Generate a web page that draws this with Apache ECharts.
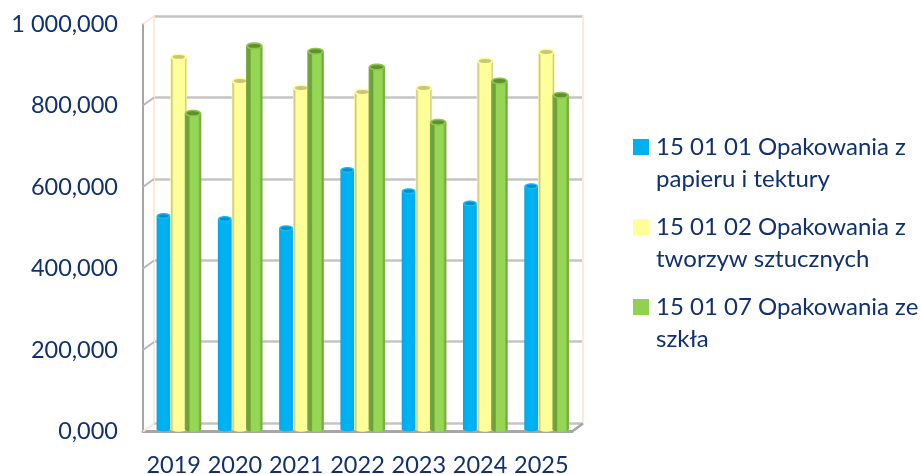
<!DOCTYPE html>
<html><head><meta charset="utf-8">
<style>html,body{margin:0;padding:0;background:#fff}#c{width:922px;height:474px}</style>
<script src="https://cdn.jsdelivr.net/npm/echarts@6/dist/echarts.min.js"></script>
</head><body><div id="c"></div>
<script>
const years = ['2019','2020','2021','2022','2023','2024','2025'];
const names = ['15 01 01 Opakowania z\npapieru i tektury','15 01 02 Opakowania z\ntworzyw sztucznych','15 01 07 Opakowania ze\nszkła'];
const paper = [522000,515000,492000,635000,583000,553000,595000];
const plastic = [912000,853000,836000,826000,836000,902000,924000];
const glass = [774000,939000,926000,887000,752000,853000,818000];
const ticks = [0,200000,400000,600000,800000,1000000];

const navy = '#10306e';
const looks = [
 {base:'#00B0F0', stops:[[0,'#00a4e4'],[0.12,'#00aeee'],[0.5,'#00b4f4'],[0.9,'#00aeee'],[1,'#00a4e4']], rim:'#19baf2', inner:'#0090cc', w:0.23, off:-0.245},
 {base:'#FFFF99', stops:[[0,'#ffff99'],[0.08,'#c9c683'],[0.2,'#ffff99'],[0.85,'#ffff99'],[0.93,'#c9c683'],[1,'#ffffa8']], rim:'#ffff99', inner:'#c9c67a', w:0.27, off:0},
 {base:'#92D050', stops:[[0,'#74a93d'],[0.24,'#6c9f38'],[0.32,'#96d655'],[0.8,'#96d655'],[0.92,'#74a93d'],[1,'#80b845']], rim:'#8cc64c', inner:'#5f9030', w:0.27, off:0.235}
];

function cylinder(look){
  return function(params, api){
    const top = api.coord([api.value(0), api.value(1)]);
    const bot = api.coord([api.value(0), 0]);
    const band = api.size([1,0])[0];
    const w = band*look.w, cx = top[0]+band*look.off, ry = w*0.17;
    const fill = {type:'linear',x:0,y:0,x2:1,y2:0,colorStops:look.stops.map(s=>({offset:s[0],color:s[1]}))};
    return {type:'group',children:[
      {type:'ellipse',shape:{cx:cx,cy:bot[1],rx:w/2,ry:ry},style:{fill:fill}},
      {type:'rect',shape:{x:cx-w/2,y:top[1],width:w,height:bot[1]-top[1]},style:{fill:fill}},
      {type:'ellipse',shape:{cx:cx,cy:top[1],rx:w/2,ry:ry*1.25},style:{fill:look.rim}},
      {type:'ellipse',shape:{cx:cx,cy:top[1],rx:w/2-2,ry:ry*0.7},style:{fill:look.inner}}
    ]};
  };
}
const seriesValues = [paper, plastic, glass];
const barSeries = seriesValues.map((vals,i)=>({
  type:'custom', name:names[i], xAxisIndex:2, yAxisIndex:3, z:5+i,
  itemStyle:{color:looks[i].base},
  encode:{x:0,y:1},
  data:vals.map((v,j)=>[j,v]),
  renderItem:cylinder(looks[i])
}));
const frame = {
  type:'custom', xAxisIndex:0, yAxisIndex:0, z:3, silent:true,
  encode:{x:0,y:1},
  data:ticks.map(v=>[0,v]),
  clip:false,
  renderItem:function(params, api){
    const v = api.value(1);
    const p = api.coord([0,v]);
    const band = api.size([1,0])[0];
    const x = p[0]-band/2;
    const edge = (v===0||v===1000000);
    const kids = [{type:'line',shape:{x1:x,y1:p[1],x2:x+11,y2:p[1]-8},style:{stroke:edge?'#fde6d8':'#b8b8b8',lineWidth:2}}];
    if(v===0){
      kids.push({type:'line',shape:{x1:x+band*7,y1:p[1],x2:x+band*7+11,y2:p[1]-8},style:{stroke:'#a6a6a6',lineWidth:2.5}});
    }
    return {type:'group',children:kids};
  }
};
const chart = echarts.init(document.getElementById('c'));
const font = 'Lato';
chart.setOption({
  animation:false,
  backgroundColor:'#fff',
  grid:[
    {left:143,width:429,top:24,height:407.5,outerBoundsMode:'none'},
    {left:154,width:429,top:16,height:407,outerBoundsMode:'none'},
    {left:148,width:429,top:21,height:408,outerBoundsMode:'none'}
  ],
  xAxis:[
    {gridIndex:0,type:'category',data:years,axisTick:{show:false},
     axisLine:{lineStyle:{color:'#a6a6a6',width:3}},
     axisLabel:{color:navy,fontFamily:font,fontSize:23.5,margin:22,interval:0}},
    {gridIndex:1,type:'category',data:years,show:false},
    {gridIndex:2,type:'category',data:years,show:false}
  ],
  yAxis:[
    {gridIndex:0,type:'value',min:0,max:1000000,interval:200000,splitLine:{show:false},
     axisLine:{show:true,lineStyle:{color:'#a6a6a6',width:2}},axisTick:{show:false},
     axisLabel:{color:navy,fontFamily:font,fontSize:23.5,margin:25,padding:[7,0,0,0],
       formatter:v=>v===1000000?'1 000,000':(v===0?'0,000':(v/1000)+',000')}},
    {gridIndex:1,type:'value',min:0,max:1000000,interval:200000,
     splitLine:{show:true,lineStyle:{color:'#c4c4c4',width:2.5}},
     axisLine:{show:true,lineStyle:{color:'#fde9dd',width:2}},axisTick:{show:false},axisLabel:{show:false}},
    {gridIndex:1,type:'value',position:'right',min:0,max:1000000,interval:200000,
     splitLine:{show:false},
     axisLine:{show:true,onZero:false,lineStyle:{color:'#fde9dd',width:2}},axisTick:{show:false},axisLabel:{show:false}},
    {gridIndex:2,type:'value',min:0,max:1000000,interval:200000,show:false}
  ],
  legend:{
    orient:'vertical',left:633,top:131,padding:0,itemGap:16,itemWidth:16,itemHeight:48,
    data:names,selectedMode:false,
    icon:'path://M0,0L16,0L16,16L0,16Z M0,48L0.01,48Z',
    textStyle:{color:navy,fontFamily:font,fontSize:24,lineHeight:32,padding:[0,0,0,2]}
  },
  series:[frame].concat(barSeries)
});
</script></body></html>
